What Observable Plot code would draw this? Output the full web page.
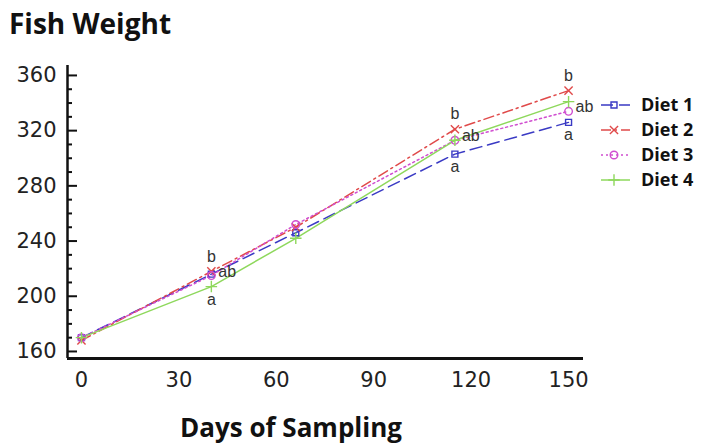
<!DOCTYPE html>
<html><head><meta charset="utf-8">
<script src="https://cdn.jsdelivr.net/npm/d3@7"></script>
<script src="https://cdn.jsdelivr.net/npm/@observablehq/plot@0.6"></script>
<style>
body{margin:0;background:#fff}
#wrap{position:relative;width:701px;height:446px;overflow:hidden;background:#fff}
#wrap svg{position:absolute;left:0;top:0}
</style></head><body><div id="wrap"></div>
<script>
// ---- data ----
const days = [0, 40, 66, 115, 150];
const diets = ["Diet 1", "Diet 2", "Diet 3", "Diet 4"];
const diet1 = [170, 216, 246, 303, 326];
const diet2 = [168, 218, 250, 321, 349];
const diet3 = [170, 215, 252, 313, 334];
const diet4 = [170, 207, 242, 313, 341];
const letters1 = [null, null, null, "a", "a"];
const letters2 = [null, "b", null, "b", "b"];
const letters3 = [null, "ab", null, "ab", "ab"];
const letters4 = [null, "a", null, null, null];
const yMajor = [160, 200, 240, 280, 320, 360];
const yMinor = [170, 180, 190, 210, 220, 230, 250, 260, 270, 290, 300, 310, 330, 340, 350];
const xTicks = [0, 30, 60, 90, 120, 150];
const title = "Fish Weight";
const xTitle = "Days of Sampling";

// ---- styles ----
const colors = ["#3a3ac4", "#e04a4a", "#d04ed0", "#8ed85c"];
const dashes = ["12,6", "10,4,2,4", "2,3", null];
const symbols = ["square2", "times", "circle", "plus"];
const d3symbols = [d3.symbolSquare2, d3.symbolTimes, d3.symbolCircle, d3.symbolPlus];

const series = [diet1, diet2, diet3, diet4];
const letters = [letters1, letters2, letters3, letters4];
const rows = days.flatMap((d, i) => diets.map((k, j) => ({day: d, diet: k, j, w: series[j][i], letter: letters[j][i]})));

const W = 701, H = 446, mL = 67, mR = 118, mT = 65, mB = 88;
const xDomain = [-4.3, 154.6], yDomain = [154.9, 367.2];
const innerW = W - mL - mR;

const lab = (l) => rows.filter(r => r.letter === l);

const plot = Plot.plot({
  width: W, height: H,
  marginLeft: mL, marginRight: mR, marginTop: mT, marginBottom: mB,
  x: {domain: xDomain},
  y: {domain: yDomain},
  style: {fontFamily: "DejaVu Sans, sans-serif", fontSize: "21px", color: "#222", background: "transparent", overflow: "visible"},
  marks: [
    Plot.axisY({ticks: yMajor, tickSize: 0, tickPadding: 11, label: null, fontSize: 21}),
    Plot.axisX({ticks: xTicks, tickSize: 0, tickPadding: 14, label: null, fontSize: 21}),
    Plot.tickY(yMajor, {y: d => d, insetRight: innerW - 10, strokeWidth: 2, stroke: "#111"}),
    Plot.tickY(yMinor, {y: d => d, insetRight: innerW - 5, strokeWidth: 2, stroke: "#111"}),
    Plot.ruleX([xDomain[0]], {strokeWidth: 2.5, stroke: "#111"}),
    Plot.ruleY([yDomain[0]], {strokeWidth: 3, stroke: "#111"}),
    ...diets.map((k, j) => Plot.line(rows.filter(r => r.j === j), {
      x: "day", y: "w", stroke: colors[j], strokeDasharray: dashes[j], strokeWidth: 1.5
    })),
    ...diets.map((k, j) => Plot.dot(rows.filter(r => r.j === j), {
      x: "day", y: "w", stroke: colors[j], symbol: () => symbols[j], r: 3.8, strokeWidth: 1.4, fill: "none"
    })),
    Plot.text(lab("b"), {x: "day", y: "w", text: "letter", dy: -15, fontSize: 16, fontFamily: "Liberation Sans", fill: "#333"}),
    Plot.text(lab("a"), {x: "day", y: "w", text: "letter", dy: 13, fontSize: 16, fontFamily: "Liberation Sans", fill: "#333"}),
    Plot.text(lab("ab"), {x: "day", y: "w", text: "letter", dx: 7, dy: -4, textAnchor: "start", fontSize: 16, fontFamily: "Liberation Sans", fill: "#333"})
  ]
});
document.getElementById("wrap").appendChild(plot);

// ---- overlay: title, axis title, legend ----
const ov = d3.select("#wrap").append("svg").attr("width", W).attr("height", H);
ov.append("text").attr("x", 9).attr("y", 34).text(title)
  .attr("font-family", "Open Sans").attr("font-weight", 700).attr("font-size", 28).attr("fill", "#111");
ov.append("text").attr("x", 291).attr("y", 437).attr("text-anchor", "middle").text(xTitle)
  .attr("font-family", "Open Sans").attr("font-weight", 700).attr("font-size", 26).attr("fill", "#111");

const lg = ov.append("g");
diets.forEach((k, j) => {
  const y = 105 + j * 25;
  lg.append("line").attr("x1", 601).attr("x2", 630).attr("y1", y).attr("y2", y)
    .attr("stroke", colors[j]).attr("stroke-width", 1.5).attr("stroke-dasharray", dashes[j]);
  lg.append("path").attr("d", d3.symbol(d3symbols[j], Math.PI * 3.8 * 3.8)())
    .attr("transform", `translate(614,${y})`).attr("fill", "none").attr("stroke", colors[j]).attr("stroke-width", 1.4);
  lg.append("text").attr("x", 641).attr("y", y).attr("dy", "0.36em").text(k)
    .attr("font-family", "Open Sans").attr("font-weight", 700).attr("font-size", 18).attr("fill", "#111");
});
</script>
</body></html>
